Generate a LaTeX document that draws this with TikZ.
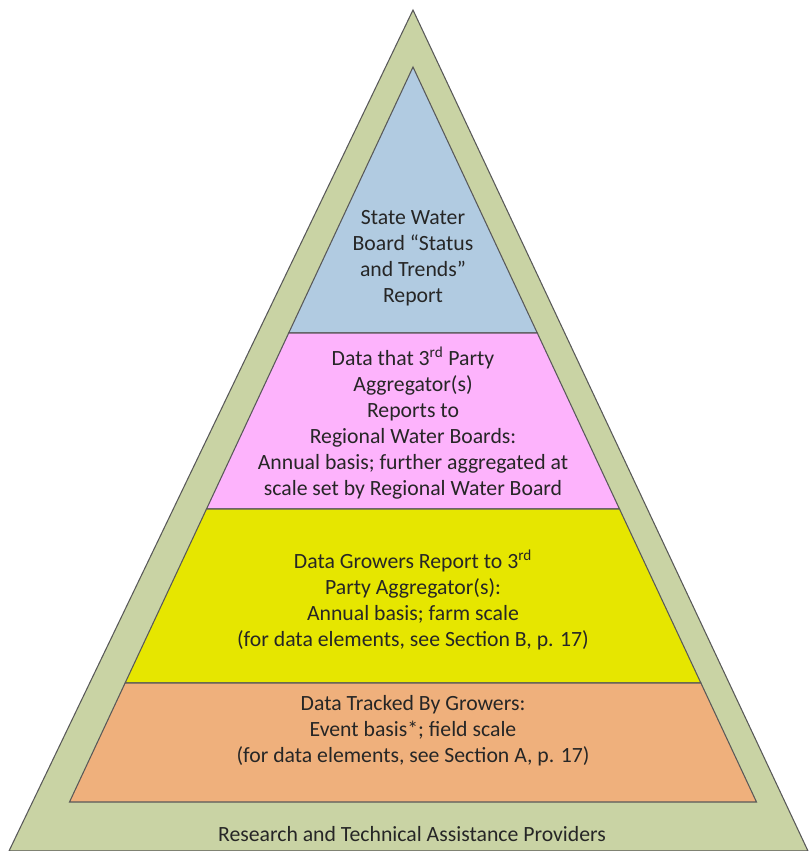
\documentclass[tikz,border=0pt]{standalone}
\usepackage{fontspec}
\setmainfont{Carlito}
\definecolor{outergreen}{HTML}{C9D3A4}
\definecolor{tierblue}{HTML}{B1CBE1}
\definecolor{tierpink}{HTML}{FDB3FC}
\definecolor{tieryellow}{HTML}{E6E600}
\definecolor{tierorange}{HTML}{EFB07C}
\tikzset{
  tier/.style={draw=black!65, line width=0.8pt, line join=miter},
  tiertext/.style={align=center, font=\fontsize{16.3}{19.5}\selectfont, text=black!85}
}
\begin{document}
\begin{tikzpicture}[x=0.75pt, y=-0.75pt]
\useasboundingbox (0,0) rectangle (809,851);
\clip (0,0) rectangle (809,851);
% outer triangle
\draw[tier, fill=outergreen] (413,10) -- (808,851) -- (9,851) -- cycle;
% pyramid tiers, top to bottom
\draw[tier, fill=tierblue] (413,67) -- (537.3,333) -- (288.7,333) -- cycle;
\draw[tier, fill=tierpink] (288.7,333) -- (537.3,333) -- (619.5,509) -- (206.5,509) -- cycle;
\draw[tier, fill=tieryellow] (206.5,509) -- (619.5,509) -- (700.9,683) -- (125.1,683) -- cycle;
\draw[tier, fill=tierorange] (125.1,683) -- (700.9,683) -- (756.5,802) -- (69.5,802) -- cycle;

\node[tiertext] (report) at (413,258) {State Water\\Board “Status\\and Trends”\\Report};
\node[tiertext] (regional) at (413,423) {Data that 3\textsuperscript{rd} Party\\Aggregator(s)\\Reports to\\Regional Water Boards:\\Annual basis; further aggregated at\\scale set by Regional Water Board};
\node[tiertext] (growers) at (413,600) {Data Growers Report to 3\textsuperscript{rd}\\Party Aggregator(s):\\Annual basis; farm scale\\(for data elements, see Section B, p. 17)};
\node[tiertext] (tracked) at (413,731) {Data Tracked By Growers:\\Event basis*; field scale\\(for data elements, see Section A, p. 17)};
\node[tiertext] (providers) at (412,834) {Research and Technical Assistance Providers};
\end{tikzpicture}
\end{document}
